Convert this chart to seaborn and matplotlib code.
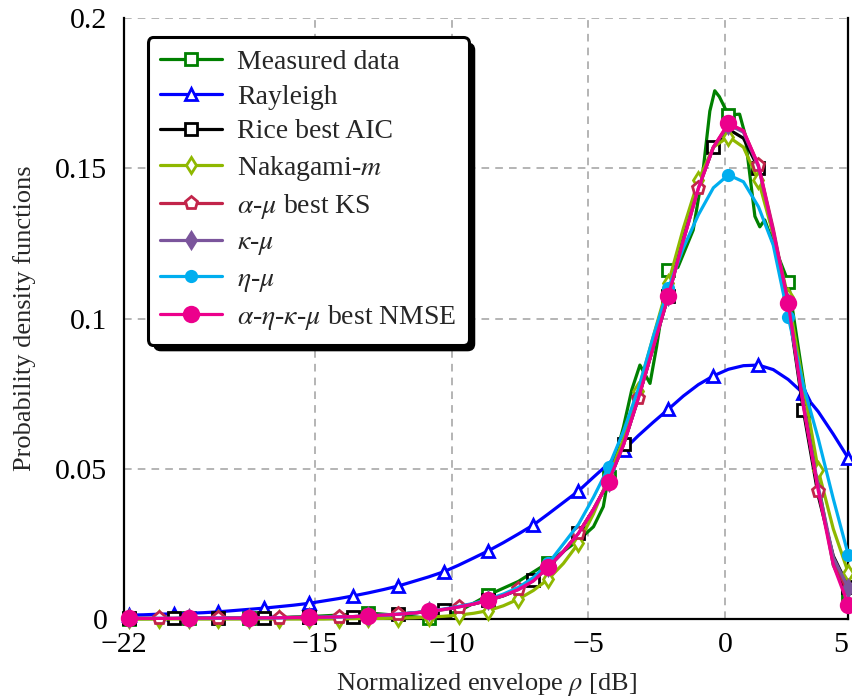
import numpy as np
import pandas as pd
import matplotlib
matplotlib.use("Agg")
import matplotlib.pyplot as plt
import seaborn as sns
from matplotlib.patches import FancyBboxPatch
from matplotlib.transforms import IdentityTransform

# ---------------- data ----------------
rho_db = [-21.83, -21.28, -20.73, -20.18, -19.63, -19.09, -18.54, -17.99, -17.44, -16.89,
          -16.34, -15.79, -15.24, -14.69, -14.14, -13.60, -13.05, -12.50, -11.95, -11.40,
          -10.85, -10.30, -9.75, -9.20, -8.66, -8.11, -7.56, -7.01, -6.46, -5.91,
          -5.36, -4.81, -4.26, -3.71, -3.17, -2.62, -2.07, -1.52, -0.97, -0.42,
          0.13, 0.68, 1.23, 1.77, 2.32, 2.87, 3.42, 3.97, 4.52]

measured_x = [-21.83, -19.63, -17.44, -15.24, -14.14, -13.05, -11.95, -10.85, -9.75, -8.66,
              -7.56, -6.46, -5.36, -4.81, -4.45, -4.26, -3.84, -3.71, -3.41, -3.11,
              -2.74, -2.50, -2.07, -1.72, -1.16, -0.80, -0.55, -0.37, -0.20, 0.13,
              0.54, 0.73, 1.10, 1.28, 1.46, 1.77, 2.32, 2.50, 2.87, 3.42, 3.97, 4.52]
measured_y = [0.0001, 0.0002, 0.0002, 0.0008, 0.0013, 0.0020, 0.0012, 0.0003, 0.0025, 0.0080,
              0.0125, 0.0188, 0.0262, 0.0307, 0.0374, 0.0474, 0.0596, 0.0640, 0.0762, 0.0845,
              0.0784, 0.0906, 0.1161, 0.1170, 0.1294, 0.1490, 0.1690, 0.1758, 0.1738, 0.1677,
              0.1680, 0.1616, 0.1340, 0.1305, 0.1328, 0.1250, 0.1122, 0.1017, 0.0795, 0.0450,
              0.0180, 0.0070]

rayleigh_y = [0.0013, 0.0014, 0.0016, 0.0017, 0.0019, 0.0021, 0.0024, 0.0028, 0.0032, 0.0036,
              0.0041, 0.0046, 0.0052, 0.0060, 0.0068, 0.0077, 0.0087, 0.0098, 0.0110, 0.0125,
              0.0140, 0.0157, 0.0179, 0.0203, 0.0227, 0.0254, 0.0283, 0.0313, 0.0350, 0.0388,
              0.0426, 0.0472, 0.0517, 0.0562, 0.0610, 0.0655, 0.0698, 0.0742, 0.0780, 0.0809,
              0.0831, 0.0843, 0.0845, 0.0830, 0.0797, 0.0751, 0.0690, 0.0615, 0.0535]

rice_y = [0.0002, 0.0002, 0.0002, 0.0002, 0.0003, 0.0003, 0.0003, 0.0003, 0.0003, 0.0004,
          0.0004, 0.0005, 0.0005, 0.0006, 0.0007, 0.0008, 0.0010, 0.0013, 0.0016, 0.0020,
          0.0025, 0.0030, 0.0040, 0.0050, 0.0062, 0.0077, 0.0097, 0.0130, 0.0172, 0.0224,
          0.0285, 0.0364, 0.0458, 0.0582, 0.0735, 0.0905, 0.1075, 0.1270, 0.1440, 0.1570,
          0.1630, 0.1600, 0.1500, 0.1280, 0.1040, 0.0696, 0.0410, 0.0210, 0.0107]

nakagami_y = [0.0000, 0.0000, 0.0000, 0.0000, 0.0000, 0.0000, 0.0000, 0.0000, 0.0000, 0.0000,
              0.0000, 0.0000, 0.0000, 0.0000, 0.0001, 0.0001, 0.0002, 0.0002, 0.0003, 0.0004,
              0.0006, 0.0009, 0.0013, 0.0019, 0.0028, 0.0044, 0.0066, 0.0095, 0.0133, 0.0185,
              0.0252, 0.0350, 0.0470, 0.0600, 0.0760, 0.0940, 0.1117, 0.1300, 0.1460, 0.1570,
              0.1605, 0.1570, 0.1460, 0.1280, 0.1070, 0.0780, 0.0495, 0.0300, 0.0154]

alpha_mu_y = [0.0002, 0.0002, 0.0002, 0.0002, 0.0003, 0.0003, 0.0003, 0.0003, 0.0003, 0.0004,
              0.0004, 0.0005, 0.0005, 0.0006, 0.0007, 0.0008, 0.0010, 0.0013, 0.0016, 0.0020,
              0.0025, 0.0031, 0.0040, 0.0050, 0.0063, 0.0078, 0.0099, 0.0128, 0.0174, 0.0225,
              0.0285, 0.0365, 0.0457, 0.0580, 0.0734, 0.0905, 0.1075, 0.1260, 0.1433, 0.1570,
              0.1645, 0.1625, 0.1510, 0.1300, 0.1050, 0.0720, 0.0427, 0.0200, 0.0085]

kappa_mu_y = [0.0002, 0.0002, 0.0002, 0.0002, 0.0003, 0.0003, 0.0003, 0.0003, 0.0003, 0.0004,
              0.0004, 0.0005, 0.0005, 0.0006, 0.0007, 0.0008, 0.0010, 0.0013, 0.0016, 0.0020,
              0.0025, 0.0032, 0.0040, 0.0050, 0.0063, 0.0078, 0.0098, 0.0127, 0.0174, 0.0225,
              0.0285, 0.0365, 0.0457, 0.0580, 0.0734, 0.0905, 0.1075, 0.1260, 0.1433, 0.1570,
              0.1645, 0.1620, 0.1505, 0.1290, 0.1050, 0.0715, 0.0440, 0.0205, 0.0103]

eta_mu_y = [0.0002, 0.0002, 0.0002, 0.0002, 0.0003, 0.0003, 0.0003, 0.0003, 0.0003, 0.0004,
            0.0004, 0.0005, 0.0005, 0.0006, 0.0007, 0.0008, 0.0010, 0.0013, 0.0016, 0.0021,
            0.0026, 0.0033, 0.0042, 0.0052, 0.0066, 0.0083, 0.0105, 0.0138, 0.0185, 0.0250,
            0.0315, 0.0405, 0.0505, 0.0625, 0.0765, 0.0940, 0.1100, 0.1235, 0.1345, 0.1435,
            0.1478, 0.1455, 0.1372, 0.1245, 0.1006, 0.0780, 0.0600, 0.0400, 0.0213]

aekm_y = [0.0002, 0.0002, 0.0002, 0.0002, 0.0003, 0.0003, 0.0003, 0.0003, 0.0003, 0.0004,
          0.0004, 0.0005, 0.0005, 0.0006, 0.0007, 0.0008, 0.0010, 0.0013, 0.0016, 0.0020,
          0.0025, 0.0032, 0.0040, 0.0050, 0.0063, 0.0078, 0.0098, 0.0127, 0.0174, 0.0225,
          0.0285, 0.0365, 0.0457, 0.0580, 0.0734, 0.0905, 0.1075, 0.1260, 0.1433, 0.1570,
          0.1650, 0.1625, 0.1510, 0.1290, 0.1053, 0.0710, 0.0427, 0.0180, 0.0047]

labels = ["Measured data", "Rayleigh", "Rice best AIC", r"Nakagami-$m$",
          r"$\alpha$-$\mu$ best KS", r"$\kappa$-$\mu$", r"$\eta$-$\mu$",
          r"$\alpha$-$\eta$-$\kappa$-$\mu$ best NMSE"]
x_ticks = [-22, -15, -10, -5, 0]
x_tick_labels = ["\u221222", "\u221215", "\u221210", "\u22125", "0", "5"]
y_ticks = [0, 0.05, 0.1, 0.15, 0.2]
y_tick_labels = ["0", "0.05", "0.1", "0.15", "0.2"]

# ---------------- style ----------------
sns.set_theme(style="white")
plt.rcParams["font.family"] = ["Liberation Serif", "DejaVu Serif"]
plt.rcParams["mathtext.fontset"] = "stix"

fig = plt.figure(figsize=(8.52, 7.0), dpi=100)
ax = fig.add_axes([124 / 852, 81 / 700, (848.3 - 124) / 852, (619 - 18) / 700])

LW = 2.3
series = [
    # x, y, label, color, marker, markevery, size, face
    (measured_x, measured_y, labels[0], "#008000", "s", None, 8.5, "white"),
    (rho_db, rayleigh_y, labels[1], "#0000ff", "^", (0, 3), 9, "white"),
    (rho_db, rice_y, labels[2], "#000000", "s", (0, 3), 8.5, "white"),
    (rho_db, nakagami_y, labels[3], "#8fb800", "d", (0, 2), 8.5, "white"),
    (rho_db, alpha_mu_y, labels[4], "#c2244a", "p", (2, 4), 9.5, "white"),
    (rho_db, kappa_mu_y, labels[5], "#7b559c", "d", (0, 4), 8, "#7b559c"),
    (rho_db, eta_mu_y, labels[6], "#00aeef", "o", (0, 4), 7.5, "#00aeef"),
    (rho_db, aekm_y, labels[7], "#ec008c", "o", (0, 4), 10.5, "#ec008c"),
]

grid_x = rho_db
for i, (xs, ys, lab, col, mk, me, ms, fc) in enumerate(series):
    if me is None:
        marks = [j for j, xv in enumerate(xs)
                 if any(abs(xv - grid_x[k]) < 1e-9 for k in range(0, len(grid_x), 4))]
    else:
        marks = me
    df = pd.DataFrame({"x": xs, "y": ys})
    sns.lineplot(data=df, x="x", y="y", ax=ax, sort=False, estimator=None,
                 color=col, lw=LW, marker=mk, markevery=marks, markersize=ms,
                 markerfacecolor=fc, markeredgecolor=col, markeredgewidth=2.0,
                 label=lab, clip_on=False, zorder=3 + i)

xmax = rho_db[-1]
ax.set_xlim(-22, xmax)
ax.set_ylim(0, 0.2)
ax.set_xticks(x_ticks + [xmax])
ax.set_xticklabels(x_tick_labels)
ax.set_yticks(y_ticks)
ax.set_yticklabels(y_tick_labels)
ax.tick_params(axis="both", direction="in", length=6, width=0.8, labelsize=21.5,
               colors="black")
ax.tick_params(axis="y", pad=12)
ax.tick_params(axis="x", pad=9)
xt = ax.get_xticklabels()
xt[-1].set_horizontalalignment("right")
xt[-1].set_x(xmax)

ax.grid(True, which="major", color="#a0a0a0", linestyle=(0, (5, 4)), linewidth=1.1)
ax.set_axisbelow(True)
for side in ["left", "bottom", "right"]:
    ax.spines[side].set_color("black")
    ax.spines[side].set_linewidth(1.6)
ax.spines["top"].set_visible(False)

ax.set_xlabel(r"Normalized envelope $\rho$ [dB]", fontsize=19, labelpad=10)
ax.set_ylabel("Probability density functions", fontsize=19, labelpad=14)

leg = ax.legend(loc="upper left", bbox_to_anchor=(0.033, 0.968), borderaxespad=0,
                fontsize=20, frameon=True, fancybox=True, handlelength=2.2,
                handletextpad=0.55, labelspacing=0.33, borderpad=0.45)
frame = leg.get_frame()
frame.set_edgecolor("black")
frame.set_linewidth(2.2)
frame.set_facecolor("white")
frame.set_alpha(1)
leg.set_zorder(20)

fig.canvas.draw()
bb = leg.get_window_extent()
shadow = FancyBboxPatch((bb.x0 + 6, bb.y0 - 6), bb.width, bb.height,
                        boxstyle="round,pad=0,rounding_size=7",
                        transform=IdentityTransform(), facecolor="black",
                        edgecolor="black", clip_on=False, zorder=19)
ax.add_artist(shadow)

fig.savefig("out.png", dpi=100)
